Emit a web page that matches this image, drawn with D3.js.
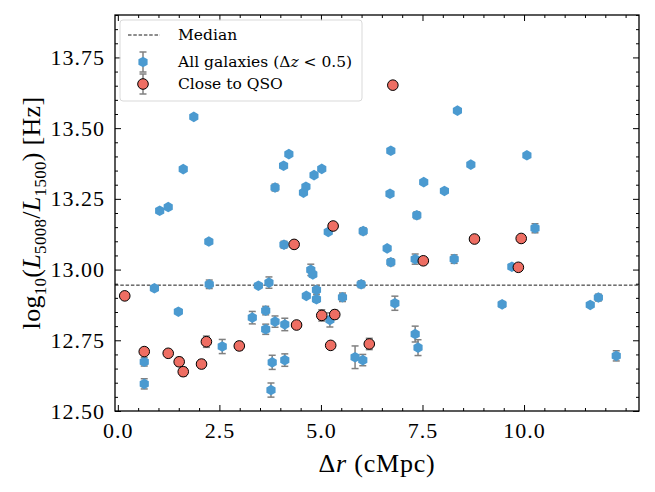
<!DOCTYPE html>
<html>
<head>
<meta charset="utf-8">
<script src="https://cdn.jsdelivr.net/npm/d3@7"></script>
<style>
  html, body { margin: 0; padding: 0; background: #fff; }
  svg text { fill: #000; }
</style>
</head>
<body>
<div id="chart"></div>
<script>
// --- data ---
const galX = [1.87, 1.61, 1.03, 1.24, 2.24, 3.87, 4.08, 4.21, 4.57, 4.63, 4.83, 5.02, 5.18, 6.04, 4.09,
  8.36, 6.72, 10.07, 8.69, 7.53, 8.04, 6.70, 7.36, 10.27, 6.63, 6.72, 7.32, 8.28, 9.70, 6.82, 9.46,
  11.63, 11.83, 7.32, 7.39, 12.27, 0.90, 2.25, 1.49, 0.65, 0.65, 2.57, 3.46, 3.72, 3.31, 3.64, 3.64,
  3.87, 4.11, 3.80, 4.11, 3.77, 4.64, 4.75, 4.80, 4.89, 4.89, 5.22, 5.53, 5.84, 6.03, 5.99];
const galY = [13.540, 13.355, 13.208, 13.221, 13.099, 13.290, 13.367, 13.408, 13.272, 13.293, 13.334, 13.356, 13.133, 13.136, 13.088,
  13.562, 13.420, 13.404, 13.371, 13.309, 13.278, 13.268, 13.192, 13.146, 13.075, 13.026, 13.037, 13.037, 13.010, 12.881, 12.877,
  12.875, 12.901, 12.772, 12.724, 12.695, 12.934, 12.948, 12.851, 12.674, 12.596, 12.728, 12.943, 12.954, 12.830, 12.855, 12.789,
  12.816, 12.806, 12.672, 12.680, 12.574, 12.907, 12.999, 12.983, 12.928, 12.895, 12.822, 12.902, 12.690, 12.680, 12.948];
const galErr = [0.005, 0.005, 0.005, 0.005, 0.008, 0.012, 0.005, 0.005, 0.007, 0.007, 0.005, 0.005, 0.005, 0.012, 0.012,
  0.005, 0.005, 0.005, 0.005, 0.008, 0.005, 0.005, 0.012, 0.016, 0.005, 0.012, 0.018, 0.015, 0.008, 0.025, 0.010,
  0.007, 0.012, 0.028, 0.028, 0.018, 0.008, 0.015, 0.008, 0.015, 0.018, 0.025, 0.005, 0.020, 0.022, 0.015, 0.018,
  0.020, 0.022, 0.025, 0.022, 0.025, 0.006, 0.020, 0.010, 0.015, 0.010, 0.025, 0.015, 0.040, 0.020, 0.012];

const qsoX = [0.17, 0.65, 1.24, 1.51, 1.61, 2.06, 2.18, 2.99, 4.40, 4.34, 5.02, 5.34, 5.30, 5.24, 6.19, 6.77, 7.52, 8.78, 9.93, 9.86];
const qsoY = [12.907, 12.710, 12.704, 12.674, 12.639, 12.666, 12.745, 12.730, 12.804, 13.089, 12.838, 12.841, 13.154, 12.732, 12.737, 13.652, 13.031, 13.108, 13.110, 13.008];
const qsoErr = [0.006, 0.010, 0.008, 0.015, 0.015, 0.015, 0.020, 0.015, 0.008, 0.008, 0.020, 0.015, 0.008, 0.010, 0.020, 0.005, 0.010, 0.006, 0.008, 0.008];

const medianY = 12.945;

const xMajor = [0, 2.5, 5, 7.5, 10];
const yMajor = [12.5, 12.75, 13.0, 13.25, 13.5, 13.75];

// --- layout ---
const W = 655, H = 492;
const margin = { top: 15, right: 16, bottom: 81, left: 115 };
const innerW = W - margin.left - margin.right;
const innerH = H - margin.top - margin.bottom;

const blue = "#4b9ad0";
const red = "#ee6e63";
const errCol = "#808080";
const serif = "'Liberation Serif', serif";
const legendFont = "'DejaVu Serif', serif";

const svg = d3.select("#chart").append("svg")
  .attr("width", W).attr("height", H)
  .style("font-family", serif);

const x = d3.scaleLinear().domain([-0.07, 12.83]).range([0, innerW]);
const y = d3.scaleLinear().domain([12.5, 13.9]).range([innerH, 0]);

const g = svg.append("g").attr("transform", `translate(${margin.left},${margin.top})`);

const xMinor = d3.range(0, 12.83, 0.5).filter(v => !xMajor.includes(v));
const yMinor = d3.range(12.5, 13.9, 0.05).map(v => +v.toFixed(2)).filter(v => !yMajor.includes(v));

// median line
g.append("line")
  .attr("x1", 0).attr("x2", innerW)
  .attr("y1", y(medianY)).attr("y2", y(medianY))
  .attr("stroke", "#000").attr("stroke-width", 0.9)
  .attr("stroke-dasharray", "3.5,1.8");

const hexPath = d3.symbol().type({
  draw(ctx, size) {
    const r = Math.sqrt(size);
    for (let i = 0; i < 6; i++) {
      const a = -Math.PI / 2 + i * Math.PI / 3;
      const px = r * Math.cos(a), py = r * Math.sin(a);
      if (i === 0) ctx.moveTo(px, py); else ctx.lineTo(px, py);
    }
    ctx.closePath();
  }
}).size(5.3 * 5.3)();

function drawErrors(xs, ys, es) {
  const eg = g.append("g").attr("stroke", errCol).attr("stroke-width", 1.5);
  xs.forEach((xv, i) => {
    const cx = x(xv), y1 = y(ys[i] - es[i]), y2 = y(ys[i] + es[i]);
    eg.append("line").attr("x1", cx).attr("x2", cx).attr("y1", y1).attr("y2", y2);
    eg.append("line").attr("x1", cx - 3.5).attr("x2", cx + 3.5).attr("y1", y1).attr("y2", y1);
    eg.append("line").attr("x1", cx - 3.5).attr("x2", cx + 3.5).attr("y1", y2).attr("y2", y2);
  });
}

// all galaxies
drawErrors(galX, galY, galErr);
g.append("g").selectAll("path")
  .data(galX.map((v, i) => [v, galY[i]]))
  .enter().append("path")
  .attr("d", hexPath)
  .attr("transform", d => `translate(${x(d[0])},${y(d[1])})`)
  .attr("fill", blue);

// close to QSO
drawErrors(qsoX, qsoY, qsoErr);
g.append("g").selectAll("circle")
  .data(qsoX.map((v, i) => [v, qsoY[i]]))
  .enter().append("circle")
  .attr("cx", d => x(d[0])).attr("cy", d => y(d[1]))
  .attr("r", 5.3)
  .attr("fill", red).attr("stroke", "#000").attr("stroke-width", 1);

// --- axes: ticks inward on all four sides ---
const fmtX = d3.format(".1f"), fmtY = d3.format(".2f");

function styleAxis(sel) {
  sel.select(".domain").remove();
  sel.selectAll(".tick line").attr("stroke", "#000").attr("stroke-width", 1);
  sel.selectAll(".tick text")
    .style("font-family", serif).style("font-size", "22px")
    .style("letter-spacing", "1px");
}

g.append("g").attr("transform", `translate(0,${innerH})`)
  .call(d3.axisBottom(x).tickValues(xMajor).tickFormat(fmtX).tickSize(-6).tickPadding(11))
  .call(styleAxis);
g.append("g").attr("transform", `translate(0,${innerH})`)
  .call(d3.axisBottom(x).tickValues(xMinor).tickFormat("").tickSize(-3))
  .call(styleAxis);
g.append("g")
  .call(d3.axisTop(x).tickValues(xMajor).tickFormat("").tickSize(-6))
  .call(styleAxis);
g.append("g")
  .call(d3.axisTop(x).tickValues(xMinor).tickFormat("").tickSize(-3))
  .call(styleAxis);

g.append("g")
  .call(d3.axisLeft(y).tickValues(yMajor).tickFormat(fmtY).tickSize(-6).tickPadding(10))
  .call(styleAxis);
g.append("g")
  .call(d3.axisLeft(y).tickValues(yMinor).tickFormat("").tickSize(-3))
  .call(styleAxis);
g.append("g").attr("transform", `translate(${innerW},0)`)
  .call(d3.axisRight(y).tickValues(yMajor).tickFormat("").tickSize(-6))
  .call(styleAxis);
g.append("g").attr("transform", `translate(${innerW},0)`)
  .call(d3.axisRight(y).tickValues(yMinor).tickFormat("").tickSize(-3))
  .call(styleAxis);

// frame
g.append("rect")
  .attr("width", innerW).attr("height", innerH)
  .attr("fill", "none").attr("stroke", "#000").attr("stroke-width", 1.3);

// --- axis labels ---
const xl = svg.append("text")
  .attr("x", margin.left + innerW / 2).attr("y", 472)
  .attr("text-anchor", "middle")
  .style("font-size", "26px").style("letter-spacing", "0.8px");
xl.append("tspan").text("Δ");
xl.append("tspan").attr("font-style", "italic").text("r");
xl.append("tspan").text(" (cMpc)");

const yl = svg.append("text")
  .attr("transform", `translate(40,${margin.top + innerH / 2}) rotate(-90)`)
  .attr("text-anchor", "middle")
  .style("font-size", "26px").style("letter-spacing", "0.3px");
yl.append("tspan").text("log");
yl.append("tspan").style("font-size", "17px").attr("dy", 6).text("10");
yl.append("tspan").attr("dy", -6).text("(");
yl.append("tspan").attr("font-style", "italic").text("L");
yl.append("tspan").style("font-size", "17px").attr("dy", 6).text("5008");
yl.append("tspan").attr("dy", -6).text("/");
yl.append("tspan").attr("font-style", "italic").text("L");
yl.append("tspan").style("font-size", "17px").attr("dy", 6).text("1500");
yl.append("tspan").attr("dy", -6).text(") [Hz]");

// --- legend ---
const lg = svg.append("g").attr("transform", "translate(120,20)");
lg.append("rect")
  .attr("width", 242).attr("height", 81).attr("rx", 3)
  .attr("fill", "#fff").attr("fill-opacity", 0.8)
  .attr("stroke", "#d9d9d9").attr("stroke-width", 1);

lg.append("line")
  .attr("x1", 8).attr("x2", 40).attr("y1", 15).attr("y2", 15)
  .attr("stroke", "#000").attr("stroke-width", 0.9).attr("stroke-dasharray", "3.5,1.8");

function legendErr(cy) {
  const e = lg.append("g").attr("stroke", errCol).attr("stroke-width", 1.5);
  e.append("line").attr("x1", 23).attr("x2", 23).attr("y1", cy - 10).attr("y2", cy + 10);
  e.append("line").attr("x1", 19.5).attr("x2", 26.5).attr("y1", cy - 10).attr("y2", cy - 10);
  e.append("line").attr("x1", 19.5).attr("x2", 26.5).attr("y1", cy + 10).attr("y2", cy + 10);
}
legendErr(42);
lg.append("path").attr("d", hexPath).attr("transform", "translate(23,42)").attr("fill", blue);
legendErr(64);
lg.append("circle").attr("cx", 23).attr("cy", 64).attr("r", 5.3)
  .attr("fill", red).attr("stroke", "#000").attr("stroke-width", 1);

function legendText(yPos) {
  return lg.append("text").attr("x", 58).attr("y", yPos)
    .style("font-family", legendFont).style("font-size", "15.5px");
}
legendText(20).text("Median");
const t2 = legendText(47);
t2.append("tspan").text("All galaxies (Δ");
t2.append("tspan").attr("font-style", "italic").text("z");
t2.append("tspan").text(" < 0.5)");
legendText(69).text("Close to QSO");
</script>
</body>
</html>
